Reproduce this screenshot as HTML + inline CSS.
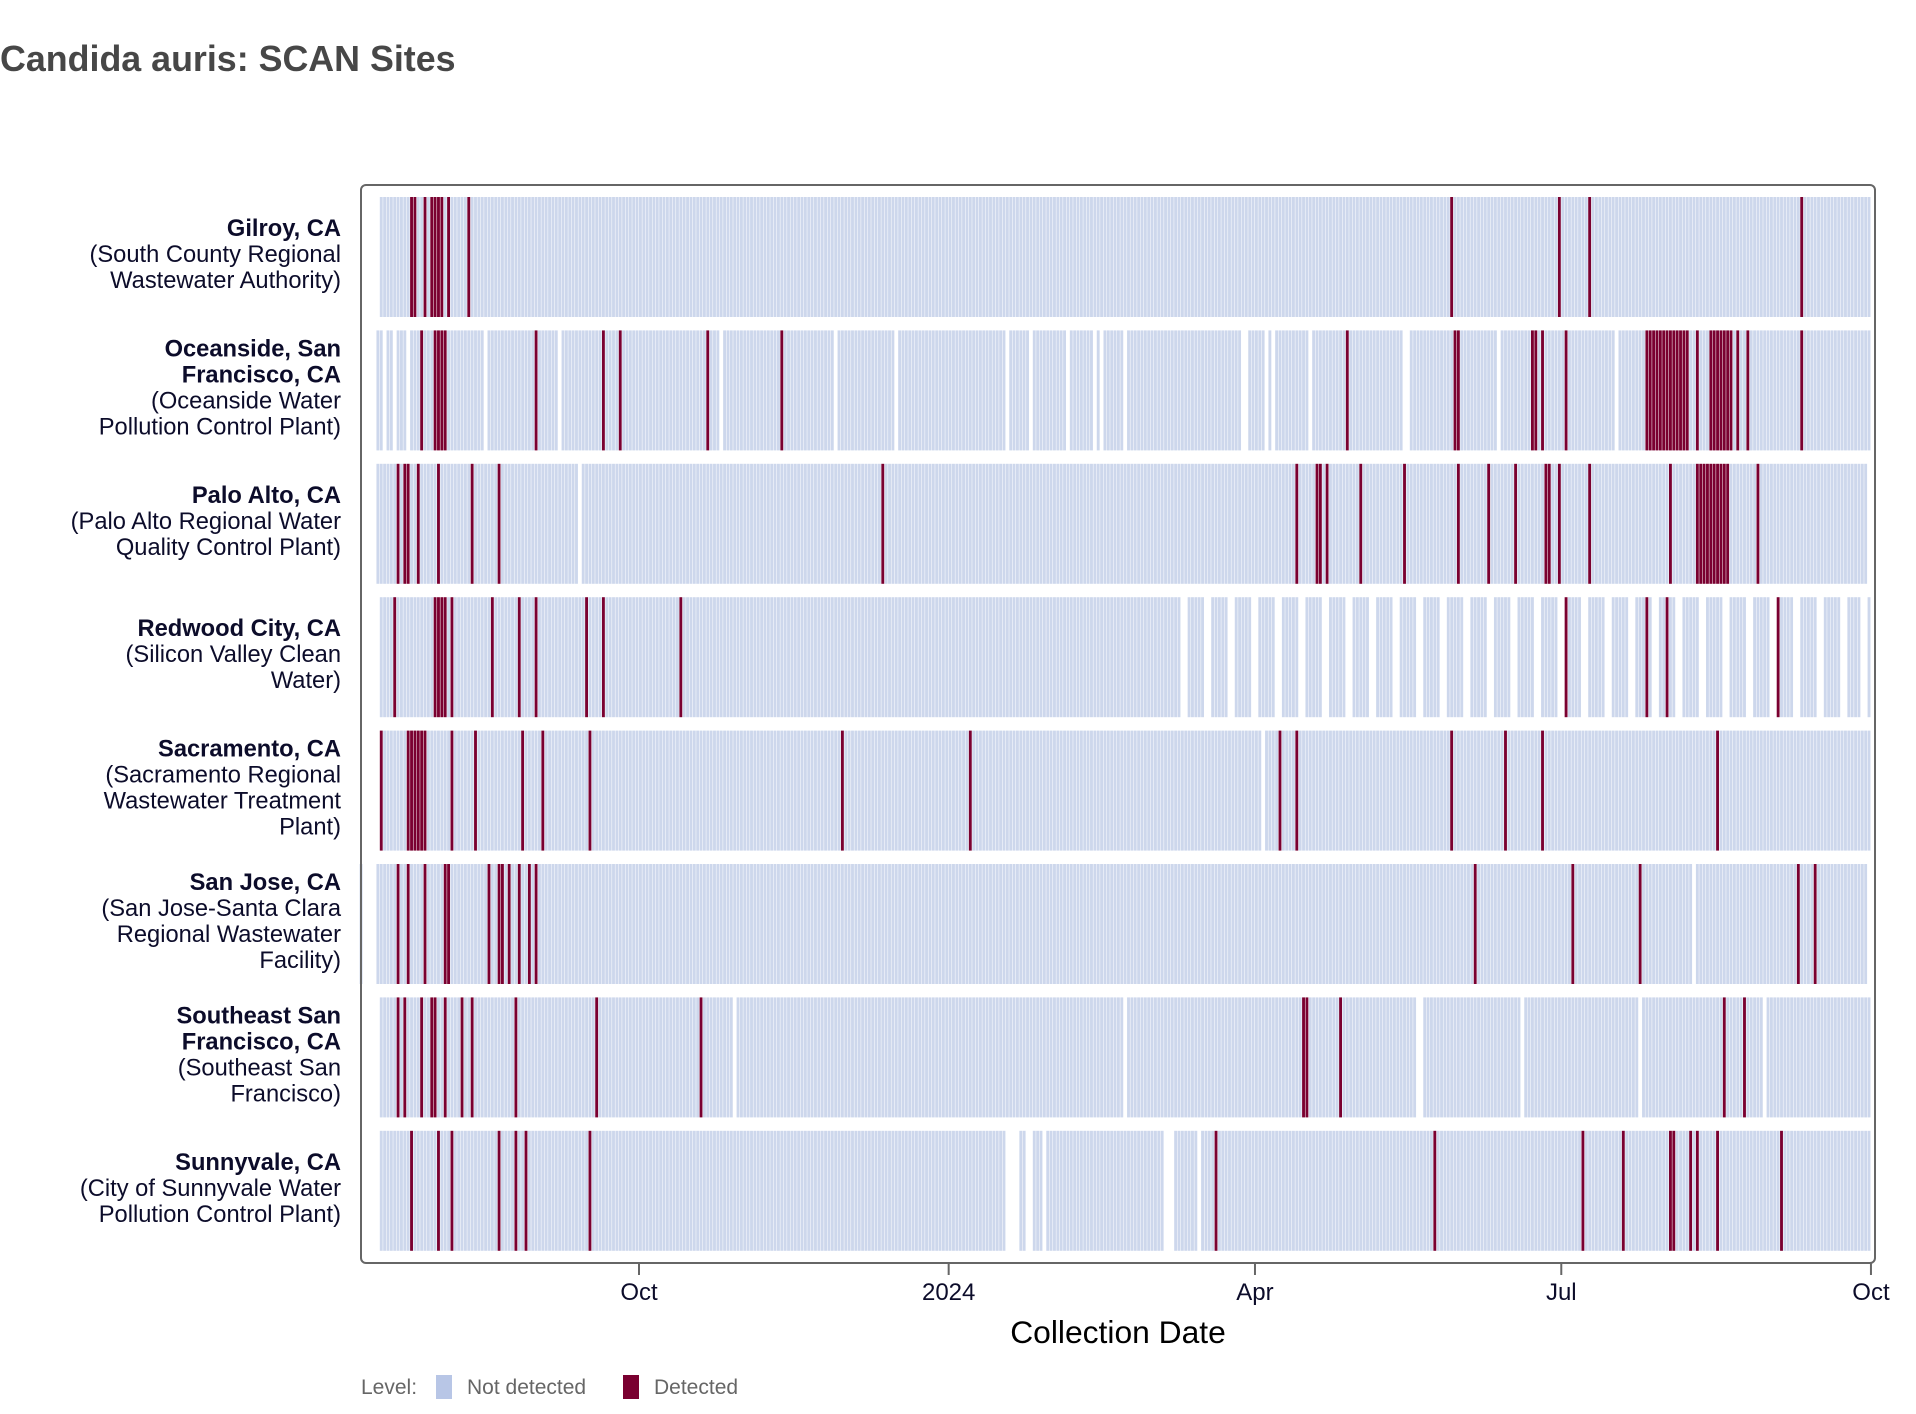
<!DOCTYPE html>
<html><head><meta charset="utf-8"><style>
html,body{margin:0;padding:0;background:#fff;}
svg{display:block;font-family:"Liberation Sans",Arial,sans-serif;}
</style></head><body>
<svg id="chart" width="1916" height="1414" viewBox="0 0 1916 1414">
<text x="0" y="71" font-size="35.8" font-weight="bold" fill="#474747">Candida auris: SCAN Sites</text>
<g id="rows"></g>
<rect x="361" y="185" width="1514" height="1078" rx="5" fill="none" stroke="#666" stroke-width="2"/>
<g id="labels"></g>
<g id="xaxis"></g>
<text x="1118" y="1343" font-size="31.8" text-anchor="middle" fill="#000">Collection Date</text>
<g>
<text x="361" y="1394" font-size="21" fill="#666">Level:</text>
<rect x="436" y="1375" width="16" height="24" fill="#b8c6e6"/>
<text x="467" y="1394" font-size="21" fill="#666">Not detected</text>
<rect x="623" y="1375" width="16" height="24" fill="#7a0030"/>
<text x="654" y="1394" font-size="21" fill="#666">Detected</text>
</g>
</svg>
<script>
// day offsets relative to 2023-10-01
const siteNames = [
 ["Gilroy, CA","(South County Regional","Wastewater Authority)"],
 ["Oceanside, San","Francisco, CA","(Oceanside Water","Pollution Control Plant)"],
 ["Palo Alto, CA","(Palo Alto Regional Water","Quality Control Plant)"],
 ["Redwood City, CA","(Silicon Valley Clean","Water)"],
 ["Sacramento, CA","(Sacramento Regional","Wastewater Treatment","Plant)"],
 ["San Jose, CA","(San Jose-Santa Clara","Regional Wastewater","Facility)"],
 ["Southeast San","Francisco, CA","(Southeast San","Francisco)"],
 ["Sunnyvale, CA","(City of Sunnyvale Water","Pollution Control Plant)"]
];
const boldLines = [1,2,1,1,1,1,2,1];
const startDays = [-77,-78,-78,-77,-77,-83,-77,-77];
const endDays = [365,365,364,365,365,364,365,365];
const missingDays = [
 [],
 [-76,-73,-69,-46,-24,24,58,76,109,116,127,135,137,144,179,180,186,188,199,227,228,255,290],
 [-18],
 [161,162,168,169,175,176,182,183,189,190,196,197,203,204,210,211,217,218,224,225,231,232,238,239,245,246,252,253,259,260,266,267,273,274,280,281,287,288,294,295,301,302,308,309,315,316,322,323,329,330,336,337,343,344,350,351,357,358,363,364],
 [185],
 [-82,-81,-80,-79,313],
 [28,144,231,232,262,297,334],
 [109,110,111,112,115,116,120,156,157,158,166]
];
const detectedDays = [
 [-68,-67,-64,-62,-61,-60,-59,-57,-51,241,273,282,345],
 [-65,-61,-60,-59,-58,-31,-11,-6,20,42,210,242,243,265,266,268,275,299,300,301,302,303,304,305,306,307,308,309,310,311,314,318,319,320,321,322,323,324,326,329,345],
 [-72,-70,-69,-66,-60,-50,-42,72,195,201,202,204,214,227,243,252,260,269,270,273,282,306,314,315,316,317,318,319,320,321,322,323,332],
 [-73,-61,-60,-59,-58,-56,-44,-36,-31,-16,-11,12,275,299,305,338],
 [-77,-69,-68,-67,-66,-65,-64,-56,-49,-35,-29,-15,60,98,190,195,241,257,268,320],
 [-72,-69,-64,-58,-57,-45,-42,-41,-39,-36,-33,-31,248,277,297,344,349],
 [-72,-70,-65,-62,-61,-58,-53,-50,-37,-13,18,197,198,208,322,328],
 [-68,-60,-56,-42,-37,-34,-15,171,236,280,292,306,307,312,314,320,339]
];
const tickLabels = ["Oct","2024","Apr","Jul","Oct"];
const tickDays = [0,92,183,274,366];

const NS="http://www.w3.org/2000/svg";
const X0=639, PXD=3.366;
function xScale(d){return X0+d*PXD;}
const ROW0=197, ROWSTEP=133.4, ROWH=120;
function yScale(i){return ROW0+i*ROWSTEP;}
function mk(tag,attrs){const e=document.createElementNS(NS,tag);for(const k in attrs)e.setAttribute(k,attrs[k]);return e;}

const rowsG=document.getElementById('rows');
const labelsG=document.getElementById('labels');
for(let i=0;i<siteNames.length;i++){
  const g=mk('g',{});
  
  
  rowsG.appendChild(g);
  const miss=new Set(missingDays[i]), det=new Set(detectedDays[i]);
  for(let d=startDays[i]; d<=endDays[i]; d++){
    if(miss.has(d)) continue;
    const isDet=det.has(d);
    const r=mk('rect',{x:(xScale(d)).toFixed(2),y:yScale(i),width:(PXD-0.5).toFixed(2),height:ROWH,fill:isDet?'#7a0030':'#cdd7ec'});
    
    
    g.appendChild(r);
  }
  const lines=siteNames[i];
  const lh=26, cy=yScale(i)+ROWH/2;
  const t=mk('text',{x:341,'font-size':23.7,'text-anchor':'end',fill:'#0c0c2a'});
  
  
  lines.forEach((ln,j)=>{
    const ts=mk('tspan',{x:341,y:(cy-(lines.length-1)*lh/2+j*lh+5).toFixed(1)});
    if(j<boldLines[i]) ts.setAttribute('font-weight','bold');
    ts.textContent=ln;
    t.appendChild(ts);
  });
  labelsG.appendChild(t);
}
const xg=document.getElementById('xaxis');
for(let k=0;k<tickLabels.length;k++){
  const x=xScale(tickDays[k]);
  const l=mk('line',{x1:x,x2:x,y1:1263,y2:1275,stroke:'#666','stroke-width':2});
  
  
  xg.appendChild(l);
  const t=mk('text',{x:x,y:1300,'font-size':24,'text-anchor':'middle',fill:'#0c0c2a'});
  
  
  t.textContent=tickLabels[k];
  xg.appendChild(t);
}
</script>
</body></html>
